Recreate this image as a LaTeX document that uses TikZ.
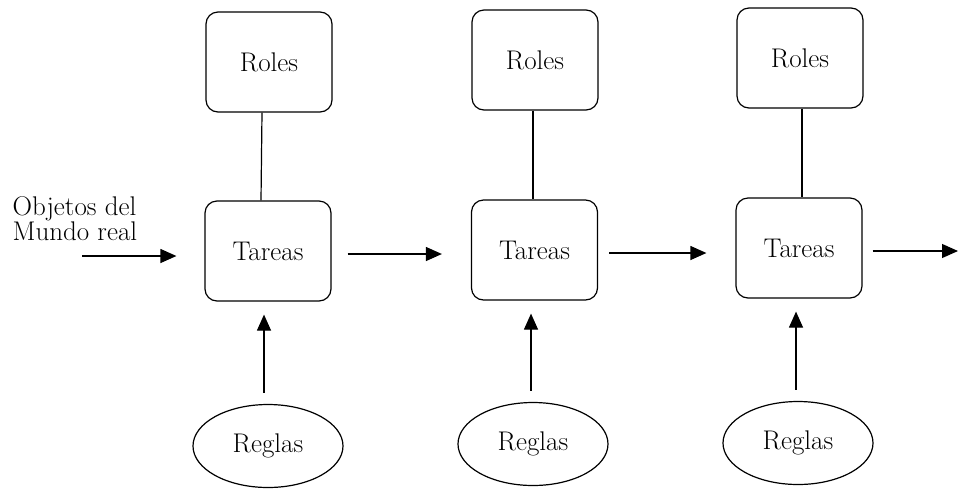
\documentclass[tikz,border=0pt]{standalone}
\usetikzlibrary{arrows.meta,shapes.geometric}
\begin{document}
\begin{tikzpicture}[x=1pt,y=-1pt,
  line width=1.2pt,
  every node/.style={font=\fontsize{27}{27}\selectfont},
  boxnode/.style={draw,rounded corners=12pt,minimum width=126pt,minimum height=100pt,inner sep=0pt},
  rulenode/.style={draw,ellipse,minimum width=150pt,minimum height=83pt,inner sep=0pt},
  arr/.style={-{Triangle[length=16pt,width=14pt]}},
  uparr/.style={arr,shorten <=11pt,shorten >=13pt}
]
\useasboundingbox (0,0) rectangle (958,491);

% roles on top, tasks in the middle, rules at the bottom
\node[boxnode] (r1) at (269,62) {Roles};
\node[boxnode] (t1) at (268,251) {Tareas};
\node[rulenode] (g1) at (268,446) {Reglas};

\node[boxnode] (r2) at (535,60) {Roles};
\node[boxnode] (t2) at (534.5,250) {Tareas};
\node[rulenode] (g2) at (533,444) {Reglas};

\node[boxnode] (r3) at (800,58) {Roles};
\node[boxnode] (t3) at (799,248) {Tareas};
\node[rulenode] (g3) at (798,443) {Reglas};

% input label and loose arrow ends
\node[anchor=north west,inner sep=0pt,align=left,
      font=\fontsize{27}{23}\selectfont] (obj) at (12,196) {Objetos del\\Mundo real};
\coordinate (in) at (82,256);
\coordinate (out) at (958,251);

% role-task links
\draw ([xshift=-7pt]r1.south) -- ([xshift=-7pt]t1.north);
\draw ([xshift=-2pt]r2.south) -- ([xshift=-1.5pt]t2.north);
\draw ([xshift=2pt]r3.south) -- ([xshift=3pt]t3.north);

% rules feed the tasks
\draw[uparr] ([xshift=-4pt]g1.north) -- ([xshift=-4pt]t1.south);
\draw[uparr] ([xshift=-2pt]g2.north) -- ([xshift=-3.5pt]t2.south);
\draw[uparr] ([xshift=-2pt]g3.north) -- ([xshift=-3pt]t3.south);

% flow between tasks
\draw[arr,shorten >=28pt] (in) -- (in -| t1.west);
\draw[arr,shorten <=16pt,shorten >=29pt] ([yshift=-3pt]t1.east) -- ([yshift=-3pt]t1.east -| t2.west);
\draw[arr,shorten <=11pt,shorten >=29pt] ([yshift=-3pt]t2.east) -- ([yshift=-3pt]t2.east -| t3.west);
\draw[arr,shorten <=10pt] ([yshift=-3pt]t3.east) -- (out);
\end{tikzpicture}
\end{document}
